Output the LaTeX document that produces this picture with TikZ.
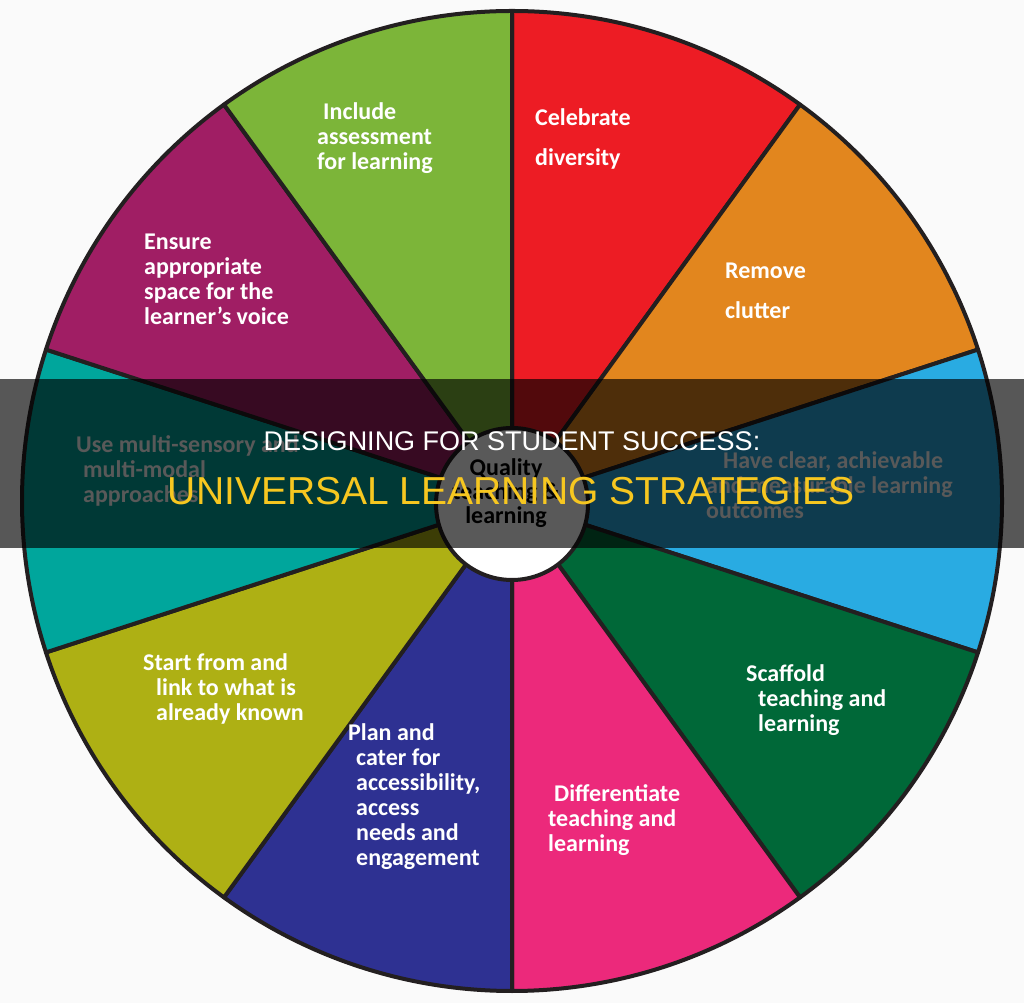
\documentclass[tikz,border=0pt]{standalone}
\usepackage{fontspec}
\setmainfont{Carlito}
\newfontfamily\headfont{Liberation Sans}
\definecolor{edge}{RGB}{35,31,32}
\definecolor{paper}{RGB}{250,250,250}
\definecolor{celebrateRed}{RGB}{237,28,36}
\definecolor{clutterOrange}{RGB}{226,134,30}
\definecolor{outcomeBlue}{RGB}{41,171,226}
\definecolor{scaffoldGreen}{RGB}{0,104,56}
\definecolor{differPink}{RGB}{236,41,123}
\definecolor{accessNavy}{RGB}{46,49,146}
\definecolor{knownOlive}{RGB}{174,176,20}
\definecolor{sensoryTeal}{RGB}{0,166,156}
\definecolor{voicePlum}{RGB}{160,30,100}
\definecolor{assessGreen}{RGB}{124,181,57}
\definecolor{titleYellow}{RGB}{247,199,32}

\begin{document}
\begin{tikzpicture}[x=1pt, y=1pt, line join=round,
		wedge/.style={draw=edge, line width=4pt},
		wedgetext/.style={text=white, align=left, anchor=north west, inner sep=0pt,
			font=\bfseries\fontsize{24}{25}\selectfont, execute at begin node=\strut},
		widetext/.style={wedgetext, font=\bfseries\fontsize{24}{40}\selectfont}]
	\useasboundingbox (0,0) rectangle (1024,1003);
	\fill[paper] (0,0) rectangle (1024,1003);
	\coordinate (c) at (512,502);
	% the wheel
	\filldraw[wedge, fill=celebrateRed] (c) -- ++(54:490) arc[start angle=54, end angle=90, radius=490] -- cycle;
	\filldraw[wedge, fill=clutterOrange] (c) -- ++(18:490) arc[start angle=18, end angle=54, radius=490] -- cycle;
	\filldraw[wedge, fill=outcomeBlue] (c) -- ++(-18:490) arc[start angle=-18, end angle=18, radius=490] -- cycle;
	\filldraw[wedge, fill=scaffoldGreen] (c) -- ++(-54:490) arc[start angle=-54, end angle=-18, radius=490] -- cycle;
	\filldraw[wedge, fill=differPink] (c) -- ++(-90:490) arc[start angle=-90, end angle=-54, radius=490] -- cycle;
	\filldraw[wedge, fill=accessNavy] (c) -- ++(-126:490) arc[start angle=-126, end angle=-90, radius=490] -- cycle;
	\filldraw[wedge, fill=knownOlive] (c) -- ++(-162:490) arc[start angle=-162, end angle=-126, radius=490] -- cycle;
	\filldraw[wedge, fill=sensoryTeal] (c) -- ++(162:490) arc[start angle=162, end angle=198, radius=490] -- cycle;
	\filldraw[wedge, fill=voicePlum] (c) -- ++(126:490) arc[start angle=126, end angle=162, radius=490] -- cycle;
	\filldraw[wedge, fill=assessGreen] (c) -- ++(90:490) arc[start angle=90, end angle=126, radius=490] -- cycle;
	\filldraw[wedge, fill=white] (512,499) circle[radius=76];
	% texts of the wedges
	\node[widetext] (celebrate) at (535,895) {Celebrate\\diversity};
	\node[widetext] (removeclutter) at (725,740) {Remove\\clutter};
	\node[wedgetext] (haveclear) at (706,551.5) {\hspace*{17pt}Have clear, achievable\\and measurable learning\\outcomes};
	\node[wedgetext] (scaffold) at (746,338.5) {Scaffold\\\hspace*{12pt}teaching and\\\hspace*{12pt}learning};
	\node[wedgetext] (differ) at (548,218.5) {\hspace*{6pt}Differentiate\\teaching and\\learning};
	\node[wedgetext] (plancater) at (348,279.5) {Plan and\\\hspace*{8pt}cater for\\\hspace*{8pt}accessibility,\\\hspace*{8pt}access\\\hspace*{8pt}needs and\\\hspace*{8pt}engagement};
	\node[wedgetext] (startfrom) at (143,349.5) {Start from and\\\hspace*{13pt}link to what is\\\hspace*{13pt}already known};
	\node[wedgetext] (multisense) at (76,567.5) {Use multi-sensory and\\\hspace*{7pt}multi-modal\\\hspace*{7pt}approaches};
	\node[wedgetext] (ensure) at (144,769.5) {Ensure\\appropriate\\space for the\\learner’s voice};
	\node[wedgetext] (include) at (317,900.5) {\hspace*{6pt}Include\\assessment\\for learning};
	\node[wedgetext, text=black, align=center, anchor=north, font=\bfseries\fontsize{24}{24}\selectfont] (quality) at (506,545) {Quality\\teaching \&\\learning};
	% banner
	\fill[black, opacity=0.65] (0,455) rectangle (1024,624);
	\node[anchor=base, inner sep=0pt, text=white, font=\headfont\fontsize{27}{27}\selectfont] (heading) at (512,552) {DESIGNING FOR STUDENT SUCCESS:};
	\node[anchor=base, inner sep=0pt, text=titleYellow, font=\headfont\fontsize{39}{39}\selectfont] (subheading) at (511,498) {UNIVERSAL LEARNING STRATEGIES};
\end{tikzpicture}
\end{document}
